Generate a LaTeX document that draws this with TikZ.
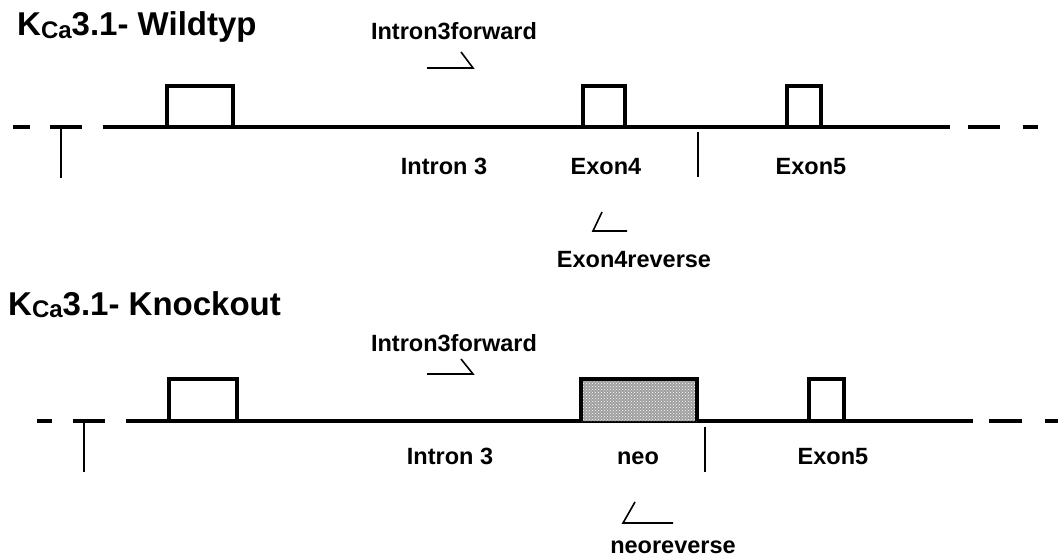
\documentclass[tikz,border=0pt]{standalone}
\usepackage{fontspec}
\setmainfont{Liberation Sans}
\usetikzlibrary{patterns}
\begin{document}
\begin{tikzpicture}[x=1pt,y=-1pt,
  gene/.style={line width=3.6pt},
  exonbox/.style={line width=3.4pt},
  thin/.style={line width=1.8pt},
  primer/.style={line width=1.6pt},
  lbl/.style={inner sep=0pt,anchor=base,font=\fontsize{23.5}{26}\selectfont\bfseries},
  ttl/.style={inner sep=0pt,anchor=base west,font=\fontsize{33}{36}\selectfont\bfseries}]
\useasboundingbox (0,0) rectangle (1058,556);
\newcommand{\kca}{K\raisebox{-0.08em}{\fontsize{24}{26}\selectfont Ca}}
% ---------- Wildtyp ----------
\node[ttl] (t1) at (17,36) {\kca3.1- Wildtyp};
\draw[gene] (13,127) -- (30,127);
\draw[gene] (50,127) -- (82,127);
\draw[gene] (103,127) -- (950,127);
\draw[gene] (968,127) -- (1000,127);
\draw[gene] (1023,127) -- (1038,127);
\draw[thin] (61,127) -- (61,178);
\draw[thin] (698,132) -- (698,177);
\draw[exonbox] (167,127) |- (233,86) -- (233,127);
\draw[exonbox] (583,127) |- (625,86) -- (625,127);
\draw[exonbox] (787,127) |- (821,86) -- (821,127);
\node[lbl] (f1) at (454,40) {Intron3forward};
\draw[primer] (427,68) -- (473,68) -- (461,52);
\node[lbl] (i1) at (444,175) {Intron 3};
\node[lbl] (e4) at (606,175) {Exon4};
\node[lbl] (e5) at (811,175) {Exon5};
\draw[primer] (602,212) -- (593,231) -- (627,231);
\node[lbl] (r1) at (634,268) {Exon4reverse};
% ---------- Knockout ----------
\node[ttl] (t2) at (8,315) {\kca3.1- Knockout};
\draw[gene] (37,421) -- (52,421);
\draw[gene] (73,421) -- (105,421);
\draw[gene] (126,421) -- (973,421);
\draw[gene] (989,421) -- (1022,421);
\draw[gene] (1045,421) -- (1060,421);
\draw[thin] (84,421) -- (84,472);
\draw[thin] (705,427) -- (705,472);
\draw[exonbox] (169,421) |- (237,379) -- (237,421);
\fill[gray!75] (581,379) rectangle (697,421);
\fill[pattern=crosshatch dots,pattern color=white] (581,379) rectangle (697,421);
\draw[exonbox] (581,421) |- (697,379) -- (697,421);
\draw[exonbox] (809,421) |- (844,379) -- (844,421);
\node[lbl] (f2) at (454,351) {Intron3forward};
\draw[primer] (427,374) -- (473,374) -- (461,359);
\node[lbl] (i2) at (450,464) {Intron 3};
\node[lbl] (neo) at (638,464) {neo};
\node[lbl] (e5b) at (833,464) {Exon5};
\draw[primer] (635,502) -- (623,523) -- (673,523);
\node[lbl] (r2) at (673,553) {neoreverse};
\end{tikzpicture}
\end{document}
